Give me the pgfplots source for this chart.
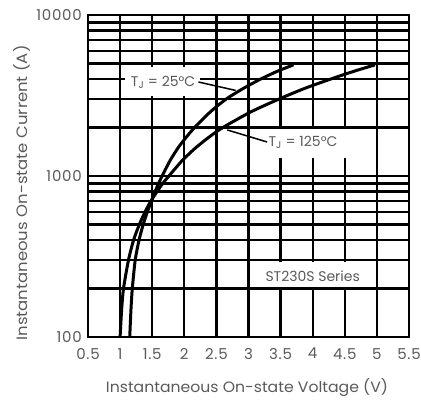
\documentclass[border=0pt]{standalone}
\usepackage{fontspec}
\setmainfont{Poppins}
\newfontfamily\tickfont[LetterSpace=5]{Poppins}
\usepackage{pgfplots}
\pgfplotsset{compat=1.18}
\definecolor{txt}{HTML}{5A5A5A}
\begin{document}
\fontsize{15}{17}\selectfont
\begin{tikzpicture}[x=1pt,y=1pt]
\useasboundingbox (-88,-64) rectangle (333,337);
\begin{axis}[
  at={(0,0)}, anchor=south west,
  scale only axis, width=321pt, height=322pt,
  xmin=0.5, xmax=5.5, ymin=100, ymax=10000, ymode=log,
  xtick={0.5,1,1.5,2,2.5,3,3.5,4,4.5,5,5.5},
  xticklabels={0.5,1,1.5,2,2.5,3,3.5,4,4.5,5,5.5},
  ytick={100,1000,10000}, yticklabels={100,1000,10000},
  minor ytick={200,300,400,500,600,700,800,900,2000,3000,4000,5000,6000,7000,8000,9000},
  grid=both,
  major grid style={black, line width=2.3pt},
  minor grid style={black, line width=2.3pt},
  axis line style={black, line width=2.8pt},
  major tick length=0pt, minor tick length=0pt,
  tick style={draw=none},
  ticklabel style={text=txt, font=\tickfont\fontsize{15}{17}\selectfont},
  xticklabel style={yshift=-6pt},
  yticklabel style={xshift=-1pt},
  /pgf/number format/assume math mode=true,
]
% T_J = 25 C
\addplot[black, line width=3pt, smooth, tension=0.4] coordinates {
 (1.150,100) (1.170,150) (1.190,200) (1.235,300) (1.295,400) (1.360,500)
 (1.425,600) (1.490,700) (1.545,800) (1.600,900) (1.655,1000) (1.780,1250)
 (1.905,1500) (2.035,1750) (2.160,2000) (2.405,2500) (2.650,3000) (2.920,3500)
 (3.190,4000) (3.465,4500) (3.700,4900)};
% T_J = 125 C
\addplot[black, line width=3pt, smooth, tension=0.4] coordinates {
 (1.000,100) (1.025,150) (1.053,200) (1.130,300) (1.210,400) (1.300,500)
 (1.390,600) (1.480,700) (1.575,800) (1.665,900) (1.760,1000) (1.970,1250)
 (2.180,1500) (2.390,1750) (2.600,2000) (3.035,2500) (3.470,3000) (3.875,3500)
 (4.280,4000) (4.665,4500) (4.970,4900)};
\fill[white] (axis cs:1.08,3150) rectangle (axis cs:2.25,4750);
\fill[white] (axis cs:3.22,1300) rectangle (axis cs:4.66,1960);
\fill[white] (axis cs:3.10,205) rectangle (axis cs:4.85,292);
\draw[black, line width=1.5pt] (axis cs:2.22,3836) -- (axis cs:2.80,3400);
\draw[black, line width=1.5pt] (axis cs:3.29,1626) -- (axis cs:2.67,1932);
\node[text=txt, inner sep=0pt, font=\fontsize{14}{16}\selectfont] at (axis cs:1.67,3836) {T\textsubscript{J} = 25°C};
\node[text=txt, inner sep=0pt, anchor=west, font=\fontsize{14}{16}\selectfont] at (axis cs:3.31,1626) {T\textsubscript{J} = 125°C};
\node[text=txt, inner sep=0pt, font=\fontsize{14}{16}\selectfont] at (axis cs:4.0,240) {ST230S Series};
\end{axis}
\node[text=txt] at (159,-51) {\scalebox{1.045}[1]{Instantaneous On-state Voltage (V)}};
\node[text=txt, rotate=90] at (-66,144) {\scalebox{1.10}[1]{Instantaneous On-state Current (A)}};
\end{tikzpicture}
\end{document}
